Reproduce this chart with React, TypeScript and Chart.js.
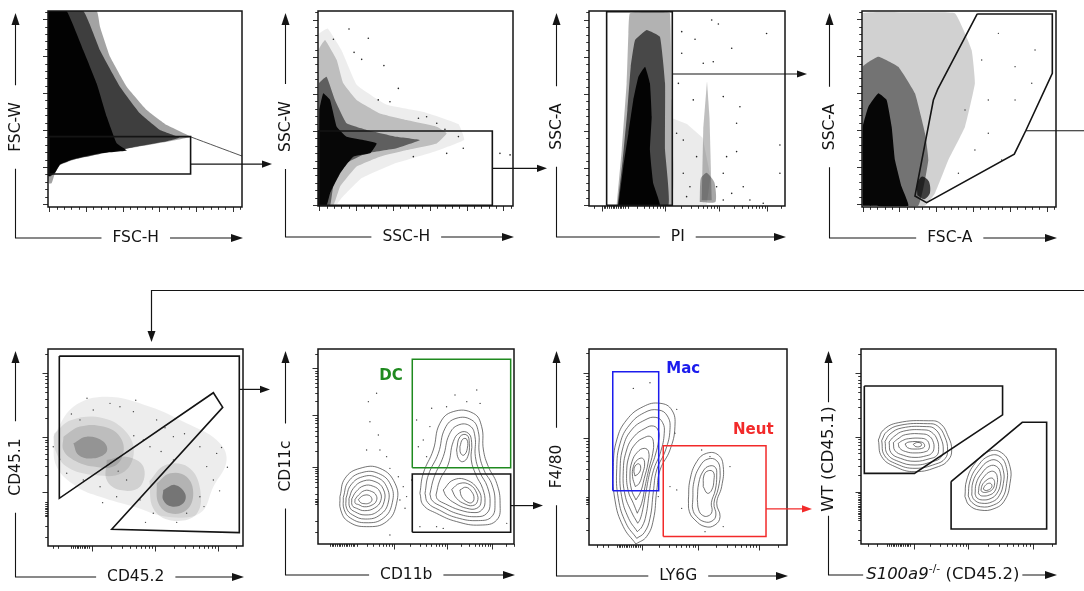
import React, { useEffect, useRef } from "react";
import { Chart, registerables } from "chart.js";
Chart.register(...registerables);

type XY = number[][];

// ---------------- tick definitions ----------------
const LIN_MAJOR = [0, 50, 100, 150, 200, 250];
const LIN_MINOR = [10, 20, 30, 40, 60, 70, 80, 90, 110, 120, 130, 140, 160, 170, 180, 190, 210, 220, 230, 240, 260];
const LOG_MINOR_MULT = [2, 3, 4, 5, 6, 7, 8, 9];

const P1_X_RANGE = [-1.8, 262.7];
const P1_Y_RANGE = [-4, 261];
const P2_X_RANGE = [-1.8, 263];
const P2_Y_RANGE = [-1.3, 262];
const P3_Y_RANGE = [-1.3, 262];
const P4_X_RANGE = [-0.9, 262.7];
const P4_Y_RANGE = [-4, 261];

const P3_X_LOG = { majors: [6.5, 38.8, 66.5, 90.7], widths: [0, 27, 27.7, 24.2], after: 24.2, cluster: [7.5, 19], extras: [2.5] };
const P5_X_LOG = { majors: [22.5, 55, 87], widths: [0, 32.5, 32], after: 32, cluster: [12, 21.5], extras: [2.6, 5.1] };
const P5_Y_LOG = { majors: [27.4, 55.3, 87.8], widths: [0, 27.9, 32.5], after: 32.5, cluster: [15, 23], extras: [4.5, 10] };
const P6_X_LOG = { majors: [39, 66, 89], widths: [27, 27, 23], after: 23, cluster: [6, 19], extras: [] };
const P6_Y_LOG = { majors: [39.5, 66, 90], widths: [20, 26.5, 24], after: 24, cluster: [20.5, 23.5], extras: [6, 12] };
const P7_X_LOG = { majors: [27, 55, 86], widths: [0, 28, 31], after: 31, cluster: [14, 26], extras: [3.9, 7.2, 9.7] };
const P7_Y_LOG = { majors: [54.6, 87.8], widths: [30, 33.2], after: 33.2, cluster: [21, 25], extras: [7.7, 14] };
const P8_X_LOG = { majors: [27, 55, 88], widths: [0, 28, 33], after: 33, cluster: [13.5, 26], extras: [3.8, 8] };
const P8_Y_LOG = { majors: [26.8, 55, 87.5], widths: [0, 28.2, 32.5], after: 32.5, cluster: [12.5, 26], extras: [2, 7.2] };

// ---------------- panel 1 : FSC-H / FSC-W ----------------
const P1_OUTER: XY = [[0, 100], [25.1, 100], [26.8, 92], [32, 76.7], [40.6, 61.4], [50.9, 49.5], [61.2, 41.8], [73.2, 35.9], [61.2, 33.3], [44, 30.3], [26.8, 27], [13, 24], [6.2, 21.4], [3.6, 17.2], [1.9, 12.1], [0.5, 12], [0, 15]];
const P1_MID: XY = [[0, 100], [18.2, 100], [26.8, 80], [37.1, 61.4], [47.4, 47.8], [57.7, 39.3], [67.9, 35.4], [61.2, 33.5], [44, 30.5], [26.8, 27.2], [13, 24.2], [6.2, 21.6], [3.6, 17.4], [1, 15.5], [0, 16]];
const P1_CORE: XY = [[0, 100], [9.6, 100], [18.2, 80], [25.1, 63], [30.3, 46], [35.4, 32.5], [40.6, 28.8], [26.8, 27.4], [13, 24.4], [6.2, 21.8], [3.6, 17.6], [1, 15.8], [0, 16]];
const P1_TAIL: XY = [[73.2, 35.9], [87, 30.8], [100, 26]];
const P1_GATE: XY = [[0.5, 16.8], [73.5, 16.8], [73.5, 35.9], [0.5, 35.9]];
const P1_ARROW = [73.5, 21.9];

// ---------------- panel 2 : SSC-H / SSC-W ----------------
const P2_SPARSE: XY = [[0.3, 0.5], [0.3, 88], [5, 91], [12, 80], [20, 62], [35, 52], [55, 48], [72, 42], [75, 34], [60, 28], [40, 22], [22, 14], [12, 4], [9, 0.2]];
const P2_OUTER: XY = [[0.3, 0.5], [0.3, 80], [3.6, 85.1], [9.6, 74.9], [13, 62.9], [19.8, 54.4], [31.8, 47.5], [45.5, 44.1], [60.9, 40.7], [66, 37.3], [60.9, 32.1], [45.5, 28.7], [31.8, 25.3], [19.8, 20.2], [11.3, 9.9], [7.8, 0.2]];
const P2_MID: XY = [[0.5, 0.5], [0.5, 62.9], [4.4, 66.3], [8.7, 54.4], [14.7, 42.4], [25, 39], [40.3, 35.5], [52.3, 33.8], [40.3, 29.6], [25, 27], [14.7, 21.9], [7.8, 9.9], [6.2, 0.2]];
const P2_CORE: XY = [[0.7, 0.5], [0.7, 49.2], [2.7, 57.8], [6.2, 54.4], [9.6, 40.7], [14.7, 35.5], [23.2, 33.8], [30.1, 32.1], [26.7, 27], [18.1, 25.3], [11.3, 16.8], [6.2, 6.5], [4.4, 0.2]];
const P2_DOTS: XY = [[15.9, 90.8], [25.8, 86], [7.9, 85.5], [18.5, 78.8], [22.4, 75.2], [33.8, 72], [41.2, 60.3], [30.9, 54.4], [36.9, 53.5], [51.5, 45], [55.7, 45.8], [60.9, 42.4], [65.1, 39.3], [72, 35.6], [93.3, 27], [98.5, 26.2], [74.5, 29.6], [66, 27], [48.9, 25.3]];
const P2_GATE: XY = [[0.2, 0.3], [89.4, 0.3], [89.4, 38.5], [0.2, 38.5]];
const P2_ARROW = [89.4, 19.3];

// ---------------- panel 3 : PI / SSC-A ----------------
const P3_OUTER: XY = [[14.1, 0.2], [16.7, 28.7], [19.2, 62.9], [20.1, 88.6], [20.9, 98.8], [36.2, 99.3], [41.3, 98.8], [42.2, 54.4], [42.2, 0.2]];
const P3_MID: XY = [[14.6, 0.2], [17.2, 23.6], [19.6, 49.2], [21.3, 71.4], [23.5, 85.1], [29.4, 90.3], [36.2, 86.8], [38.8, 62.9], [38.8, 28.7], [40.5, 0.2]];
const P3_CORE: XY = [[15, 0.2], [17.5, 20.2], [20.1, 37.3], [22.6, 54.4], [25.2, 66.3], [28.6, 71.4], [31.1, 62.9], [32, 45.8], [31.1, 28.7], [32.8, 11.6], [36.2, 0.2]];
const P3_RIGHT: XY = [[42.5, 0.2], [42.5, 45], [50, 42], [58, 35], [62, 15], [60, 0.2]];
const P3_STREAK: XY = [[57.5, 3], [58.3, 40], [60.2, 64], [61.5, 45], [62.6, 3]];
const P3_BLOB: XY = [[56.5, 2], [57, 14], [60, 17], [64, 12], [64.5, 2]];
const P3_DOTS: XY = [[47.3, 89.4], [54.1, 85.5], [62.6, 95.4], [66, 93.3], [72.8, 80.9], [58.3, 73.2], [63.4, 74], [47.3, 78.3], [53.2, 54.4], [68.5, 56.1], [77, 50.9], [75.3, 27.9], [78.7, 9.9], [88.9, 1.4], [97.4, 16.8], [48.1, 16.8], [51.5, 9.9], [54.9, 25.3], [68.5, 16.8], [70.2, 25.3], [72.8, 6.5], [82.1, 3.1], [44.7, 37.3], [48.1, 33.8], [97.4, 31.3], [49.8, 4.8], [65.1, 9.9], [68.5, 3.1], [45.6, 62.9], [75.3, 42.4], [90.6, 88.5]];
const P3_GATE: XY = [[9, 0.3], [42.5, 0.3], [42.5, 99.7], [9, 99.7]];
const P3_ARROW = [42.5, 67.7];

// ---------------- panel 4 : FSC-A / SSC-A ----------------
const P4_OUTER: XY = [[0.4, 0.7], [0.4, 98.8], [27.3, 99.3], [47.9, 98.8], [56.5, 80.1], [58.2, 63.1], [53.1, 41], [44.5, 24], [37.6, 7], [32.5, 0.7]];
const P4_MID: XY = [[0.4, 0.7], [0.4, 71.6], [8.4, 76.7], [18.7, 71.6], [27.3, 58], [32.5, 37.6], [34.2, 24], [29, 0.7]];
const P4_CORE: XY = [[0.4, 0.7], [0.4, 41], [3.3, 51.2], [8.4, 58], [12.7, 54.6], [15.3, 41], [17, 24], [20.4, 10.4], [23.9, 0.7]];
const P4_BLOB: XY = [[28.5, 6], [28.5, 12], [31, 15.5], [34.5, 13], [35, 7], [32, 4]];
const P4_DOTS: XY = [[89.2, 80.1], [78.9, 71.6], [70.3, 88.6], [65.1, 54.6], [78.9, 54.6], [58.2, 29.1], [49.7, 17.2], [72, 24], [87.5, 63.1], [61.7, 75], [65.1, 37.6], [53.1, 49.5]];
const P4_GATE: XY = [[59.4, 98.5], [98.1, 98.5], [98.1, 68.2], [84.4, 38.9], [78.5, 27], [33.3, 2.2], [27.3, 5.6], [36.8, 54.6], [39, 60]];
const P4_ARROW = [84.4, 38.9];

// ---------------- panel 5 : CD45.2 / CD45.1 ----------------
const P5_ENVELOPE: XY = [[2.7, 55.5], [13, 70.7], [30.1, 75.8], [52.3, 70.7], [71.1, 62.3], [86.5, 53.8], [91.6, 43.7], [84.8, 30.1], [77.9, 16.6], [60.9, 14.9], [43.8, 20], [26.7, 25], [14.7, 30.1], [4.4, 40.3]];
const P5_A_OUT: XY = [[3, 57], [12, 64], [28, 65], [40, 58], [44, 47], [38, 37], [24, 36], [10, 40], [4, 48]];
const P5_A_MID: XY = [[7.9, 55.5], [16.4, 60.6], [28.4, 60.6], [36.9, 55.5], [38.6, 47], [33.5, 40.3], [23.2, 40.3], [13, 43.7], [7.9, 48.7]];
const P5_A_CORE: XY = [[13, 52.1], [19.8, 55.5], [28.4, 53], [30.1, 47.9], [23.2, 44.5], [15.6, 46.2]];
const P5_MIDDLE: XY = [[30.1, 43.7], [40.3, 45.3], [48.9, 40.3], [47.2, 30.1], [36.9, 28.4], [30.1, 33.5]];
const P5_B_OUT: XY = [[52, 33], [60, 41], [72, 40], [78, 29], [76, 16], [63, 13], [54, 19]];
const P5_B_MID: XY = [[55.7, 31.8], [62.6, 36.9], [71.1, 35.2], [74.5, 26.7], [71.1, 18.3], [62.6, 16.6], [56.6, 21.7]];
const P5_B_CORE: XY = [[59.1, 28.4], [65.1, 31], [70.3, 26.7], [69.4, 21.7], [63.4, 20], [59.1, 23.4]];
const P5_DOTS: XY = [[31.8, 72.4], [36.9, 70.7], [43.8, 68.2], [55.7, 64], [64.3, 55.5], [77.9, 50.4], [86.5, 47], [81.4, 40.3], [48.9, 53.8], [52.3, 50.4], [40.3, 33.5], [26.7, 30.1], [18.1, 33.5], [9.6, 36.9], [2.7, 50.4], [23.2, 69], [16.4, 64], [77.9, 25], [84.8, 33.5], [71.1, 16.6], [54, 16.6], [47.2, 23.4], [35.2, 25], [64.3, 43.7], [20, 75], [45, 74], [60, 60], [70, 57], [89, 50], [92, 40], [58, 48], [36, 38], [44, 56], [12, 67], [6, 44], [28, 22], [50, 12], [66, 12], [80, 20], [88, 28]];
const P5_GATE: XY = [[5.8, 96.4], [98.1, 96.4], [98.1, 6.8], [32.7, 8.5], [89.6, 70.4], [84.8, 77.8], [5.8, 24.2]];
const P5_ARROW = [98.1, 79.5];

// ---------------- panel 6 : CD11b / CD11c ----------------
const P6_LEFT_RINGS: XY[] = [
  [[11.2, 24.3], [13.8, 33.7], [21.4, 38.8], [31.6, 38.8], [39.3, 31.1], [40.1, 20.9], [35, 11.5], [24.8, 8.9], [15.5, 11.5], [11.6, 17.4]],
  [[12.9, 23.9], [15.5, 32], [22.3, 36.6], [30.8, 36.2], [37.1, 30.3], [37.9, 21.2], [33.3, 13.2], [24.5, 10.9], [16.7, 13.2], [13.3, 17.8]],
  [[14.3, 23.6], [16.8, 30.3], [22.8, 34.5], [29.9, 34.2], [35, 29.4], [35.9, 21.5], [31.6, 14.9], [24.1, 12.8], [17.7, 14.9], [14.6, 18.3]],
  [[15.8, 23.2], [18, 28.5], [23.1, 32.3], [29.1, 32], [33.3, 28.2], [33.8, 21.9], [30.3, 16.6], [24, 14.9], [18.7, 16.6], [16.2, 18.8]],
  [[17.2, 23.1], [19.4, 26.8], [23.5, 29.9], [28.2, 29.6], [31.6, 26.8], [32, 22.2], [28.9, 18.5], [23.8, 17.1], [19.7, 18.3], [17.5, 19.7]],
  [[18.9, 22.9], [20.7, 25.1], [23.8, 27.4], [27.2, 27], [29.6, 25.1], [29.8, 22.2], [27.6, 20], [23.6, 19.1], [20.7, 20.2], [19, 20.9]],
  [[20.6, 22.7], [22.1, 24.3], [24, 25.1], [25.9, 25], [27.2, 23.9], [27.4, 22.2], [25.9, 20.9], [23.5, 20.7], [21.8, 21.2]],
];
const P6_RIGHT_RINGS: XY[] = [
  [[52, 26], [53.7, 36.2], [58.8, 48.2], [62.2, 61.9], [69, 67.9], [79.3, 67], [83.5, 60.2], [84.4, 48.2], [86.9, 39.7], [91.2, 31.1], [92.9, 20.9], [91.2, 12.3], [82.7, 9.7], [70.7, 11.5], [60.5, 15.7], [53.7, 20]],
  [[54.6, 26], [56.3, 35.4], [61.4, 46.5], [64.8, 59.3], [70.4, 64.4], [78.4, 63.6], [81.8, 57.6], [82.3, 46.5], [84.7, 37.9], [88.8, 30.3], [90.3, 20.9], [88.6, 14], [81.8, 12], [70.7, 13.5], [61.9, 17.4], [56, 21.2]],
  [[57.1, 25.6], [59.2, 34.2], [63.9, 44.8], [67, 56.2], [71.6, 61], [77.6, 60.5], [80.1, 55], [80.3, 44.8], [82.7, 36.6], [86.4, 29.4], [87.8, 20.9], [86.1, 15.7], [81, 14], [71.6, 15.4], [63.4, 19.1], [58.3, 22.2]],
  [[60.2, 25.1], [62.2, 32.8], [66.5, 41], [69, 52.5], [72.4, 57.1], [76.7, 56.8], [78.4, 52], [78.2, 43.1], [80.6, 35.4], [84, 28.5], [85.2, 21.2], [83.5, 17.4], [80.1, 16.1], [72.4, 17.4], [65.1, 20.5], [61, 22.9]],
  [[63.9, 27.7], [69, 32.8], [75.9, 32.8], [81.8, 27.7], [83.2, 21.7], [81, 18.3], [75.9, 18.3], [69.9, 20.9], [65.6, 24.3]],
  [[70.7, 48.2], [72.4, 55], [75.9, 55.9], [77.2, 51.6], [76.4, 44.8], [73.8, 42.2], [71.6, 43.9]],
  [[68.2, 28], [72.4, 31.1], [77.6, 30.3], [81, 26], [81.3, 21.7], [78.9, 19.7], [75, 20.5], [70.7, 23.4]],
  [[72.4, 49.9], [73.8, 53.7], [75.9, 53.7], [76.2, 49.1], [74.5, 45.6], [72.8, 46.5]],
  [[72.4, 27.7], [75.5, 29.1], [78.4, 26.8], [79.6, 23.4], [78.4, 21.2], [75.9, 21.7], [73.3, 24.3]],
];
const P6_DOTS: XY = [[25.7, 73], [26.5, 62.7], [30.8, 55.9], [35, 44.8], [36.7, 38.8], [41, 34.5], [43.5, 29.4], [45.2, 24.3], [50.3, 63.6], [53.7, 53.3], [55.4, 44.8], [58, 69.6], [65.6, 70.4], [69.9, 76.4], [75.9, 73], [81, 79], [52, 8.9], [60.5, 8.9], [96.3, 10.6], [36.7, 4.6], [41.8, 22.6], [31.6, 48.2], [24.8, 48.2], [29.9, 77.3], [82.7, 72.1], [57.1, 60.2], [51.2, 49.9], [47.8, 32.8], [44.4, 18.3], [63.9, 8]];
const P6_DC_GATE: XY = [[48.1, 39.1], [98.3, 39.1], [98.3, 94.7], [48.1, 94.7]];
const P6_GATE: XY = [[48.1, 6], [98.3, 6], [98.3, 35.9], [48.1, 35.9]];
const P6_ARROW = [98.3, 19.7];
const P6_DC_LABEL = [37.2, 86.2];

// ---------------- panel 7 : LY6G / F4/80 ----------------
const P7_MAC_RINGS: XY[] = [
  [[23.7, 0.5], [17.3, 9.4], [13.1, 23], [12.3, 40], [14, 53.6], [19, 63.8], [27.4, 70.6], [35.9, 72.3], [41.8, 68.9], [43.4, 60.4], [40.9, 48.5], [35.9, 38.3], [34.2, 27.6], [32.5, 12.8], [29.1, 4.3]],
  [[24.1, 3.4], [18.7, 11.1], [14.8, 23.8], [14, 39.1], [15.7, 51.9], [20.4, 61.2], [27.9, 67.5], [35, 68.9], [39.6, 65.8], [40.9, 59], [38.7, 48.5], [34.2, 38.3], [32.5, 27.2], [30.8, 13.6], [27.9, 6.3]],
  [[24.4, 6.8], [20, 13.6], [16.5, 24.7], [15.7, 38.3], [17.3, 50.2], [21.5, 58.7], [28.3, 63.8], [33.8, 65.1], [37.2, 62.4], [38, 57], [36.2, 47.6], [32.5, 37.9], [30.5, 27.2], [28.8, 15.3], [26.8, 9.4]],
  [[24.6, 11.1], [21.4, 17], [18.2, 25.5], [17.3, 37.4], [19, 48.5], [22.7, 55.3], [28.3, 59.5], [32.5, 60.7], [35, 58.3], [35.2, 53.6], [33.5, 45.9], [30.8, 37.4], [28.8, 27.2], [27.1, 17.9], [25.8, 13.1]],
  [[24.4, 16.2], [22.4, 21.3], [19.9, 27.2], [19, 36.6], [20.4, 45.9], [23.7, 51.9], [28.1, 54.9], [31.1, 55.3], [32.5, 52.7], [32.2, 46.8], [30.3, 39.1], [28.3, 29.8], [26.6, 21.3]],
  [[23.7, 23], [21.5, 28.1], [20.7, 35.7], [21.7, 42.5], [24.4, 47.3], [27.9, 49.3], [30.1, 47.6], [29.8, 41.7], [27.9, 34], [26.1, 27.2]],
  [[23.4, 29.8], [22, 34.9], [22.4, 40], [24.4, 43.4], [27.1, 44.2], [28.1, 41.3], [27.1, 36.6], [25.4, 31.5]],
  [[23.2, 35.2], [22.7, 38.3], [23.7, 40.8], [25.4, 41.3], [26.1, 39.1], [25.1, 36.6]],
];
const P7_NEUT_RINGS: XY[] = [
  [[50.2, 23], [51, 33.2], [54.4, 42.5], [59.4, 46.8], [65.3, 45.9], [67.8, 40], [67, 29.8], [64.5, 21.3], [66.2, 14.5], [63.6, 10.2], [58.6, 9.4], [53.5, 12.8], [50.7, 17]],
  [[52.4, 23], [53, 32.3], [56.1, 40.3], [60.1, 43.9], [64.5, 43], [66.2, 37.9], [65.3, 28.9], [63.1, 21.3], [64.1, 15.3], [62.1, 12.2], [58.2, 11.9], [54.4, 14.5], [52.4, 18.2]],
  [[54.7, 23.3], [55.4, 31.5], [57.7, 37.8], [60.8, 40.3], [63.8, 39.6], [64.5, 35.7], [63.8, 28.1], [61.8, 21.6], [62.1, 17], [60.1, 14.8], [57.4, 15.1], [55.4, 17.9]],
  [[57.7, 29.8], [58.1, 35.7], [60.3, 37.9], [62.8, 37.2], [63.1, 33.2], [62, 28.1], [59.8, 26.4]],
];
const P7_DOTS: XY = [[22.4, 79.9], [30.8, 82.8], [44.3, 69.2], [43.4, 57], [40.9, 29.8], [44.3, 28.1], [56.9, 48.5], [61.1, 45.1], [71.2, 40], [58.6, 6.8], [67.8, 9.4], [46.8, 18.7], [35, 24.7]];
const P7_MAC_GATE: XY = [[12, 27.7], [35.2, 27.7], [35.2, 88.4], [12, 88.4]];
const P7_NEUT_GATE: XY = [[37.5, 4.3], [89.4, 4.3], [89.4, 50.7], [37.5, 50.7]];
const P7_ARROW = [89.4, 18.4];
const P7_MAC_LABEL = [47.6, 89.8];
const P7_NEUT_LABEL = [83, 58.7];

// ---------------- panel 8 : S100a9-/- (CD45.2) / WT (CD45.1) ----------------
const P8_WT_RINGS: XY[] = [
  [[8.9, 53.3], [11.5, 58.5], [19.1, 62.2], [34.5, 63.2], [40.5, 61.9], [44.8, 55], [46.5, 48.2], [44.8, 43.1], [39.7, 39.7], [27.7, 37.1], [17.4, 39.7], [10.6, 44.8]],
  [[10.6, 53], [13.2, 57.6], [20, 60.9], [34.2, 61.7], [39.3, 60.5], [43.1, 54.7], [44.4, 48.2], [43.1, 43.8], [38.3, 41], [27.7, 38.8], [18.3, 41], [12, 45.5]],
  [[12.3, 52.6], [14.9, 56.4], [20.9, 59.5], [33.7, 60.2], [37.9, 59], [41, 54.2], [42.2, 48.2], [41, 44.4], [37.1, 42.4], [27.7, 40.5], [19.1, 42.4], [13.5, 46.2]],
  [[14.4, 52.3], [16.8, 55], [21.9, 57.9], [32.8, 58.5], [36.2, 57.3], [39, 53.7], [39.8, 48.5], [38.8, 45.3], [35.4, 43.8], [27.7, 42.4], [20.3, 43.9], [15.4, 46.8]],
  [[16.6, 52], [18.8, 53.8], [22.9, 56.1], [32, 56.4], [34.9, 55.4], [36.8, 53], [37.4, 49.1], [36.2, 46.5], [33.7, 45.3], [27.7, 44.4], [21.7, 45.5], [17.4, 47.9]],
  [[19.1, 51.6], [21.2, 53], [24.3, 54], [31.1, 54.2], [33.7, 53.3], [34.9, 51.3], [34.9, 49.1], [33.5, 47.5], [27.7, 46.7], [22.9, 47.4], [19.8, 49.2]],
  [[22.6, 51.3], [24.6, 52.3], [30.8, 52.3], [32.5, 51.1], [32.1, 49.4], [27.7, 48.7], [23.9, 49.4]],
  [[26.8, 51.1], [28.5, 52], [30.8, 51.6], [30.8, 50.3], [28.2, 49.9]],
];
const P8_KO_RINGS: XY[] = [
  [[53.3, 24.3], [54.2, 32.8], [58.5, 41.4], [65.3, 47.4], [72.1, 46.8], [76.4, 39.7], [76.4, 31.1], [73.8, 22.6], [68.7, 18.3], [61, 17.4], [55.4, 20]],
  [[55, 24.6], [55.9, 32.3], [59.7, 39.7], [65.6, 45.1], [71.3, 44.8], [74.7, 38.8], [74.7, 31.1], [72.5, 23.6], [68, 20], [61.4, 19.1], [56.8, 21.4]],
  [[56.8, 25.1], [57.4, 31.8], [60.7, 37.9], [65.8, 42.7], [70.4, 42.4], [73, 37.6], [73, 31.1], [70.9, 24.8], [67.4, 21.7], [61.9, 20.9], [58.1, 22.6]],
  [[58.5, 25.6], [59.1, 31.1], [61.9, 36.2], [66, 40], [69.6, 39.7], [71.5, 36.2], [71.5, 30.8], [69.7, 26], [66.7, 23.4], [62.4, 22.6], [59.5, 23.6]],
  [[60.2, 26.3], [60.9, 30.8], [63.1, 34.5], [66.2, 37.1], [68.7, 36.8], [69.9, 34.2], [69.7, 30.4], [68.4, 26.8], [65.8, 25.1], [62.7, 24.6], [60.9, 25.1]],
  [[61.5, 27.4], [62.2, 30.3], [64.1, 32.5], [66.5, 33.8], [68, 33.2], [68.5, 30.8], [67.4, 28], [65.3, 26.8], [62.7, 26.5]],
  [[62.7, 28.2], [63.6, 29.9], [65.3, 31.1], [66.8, 30.8], [67, 29.1], [65.3, 27.7], [63.6, 27.5]],
];
const P8_WT_GATE: XY = [[1.7, 81], [72.6, 81], [72.6, 66.2], [27.4, 36.2], [1.7, 36.2]];
const P8_KO_GATE: XY = [[46.2, 32], [82.7, 62.4], [95.2, 62.4], [95.2, 7.7], [46.2, 7.7]];

// ---------------- helpers ----------------
const FONT = '"DejaVu Sans", Verdana, sans-serif';
const GREEN = "#1f8a1f";
const BLUE = "#1c1ced";
const RED = "#f22a2a";
const INK = "#141414";
const CONTOUR = "rgba(72,72,72,0.9)";

const pts = (a: XY) => a.map(([x, y]) => ({ x, y }));
const closed = (a: XY) => pts([...a, a[0]]);

function fillDs(a: XY, color: string, order: number, tension = 0.1) {
  return { data: closed(a), showLine: true, fill: "shape", backgroundColor: color, borderColor: "rgba(0,0,0,0)", borderWidth: 0, pointRadius: 0, tension, order };
}
function polyDs(a: XY, color: string, width: number, order: number, close = true, tension = 0) {
  return { data: close ? closed(a) : pts(a), showLine: true, fill: false, borderColor: color, borderWidth: width, pointRadius: 0, tension, order, borderJoinStyle: "miter" };
}
function ringsDs(rings: XY[], order: number) {
  return rings.map((r) => ({ data: closed(r), showLine: true, fill: false, borderColor: CONTOUR, borderWidth: 0.85, pointRadius: 0, tension: 0.45, order }));
}
function dotsDs(a: XY, color: string, r: number, order: number) {
  return { data: pts(a), showLine: false, pointRadius: r, pointBackgroundColor: color, pointBorderColor: color, pointBorderWidth: 0, order };
}

function tickSets(t: any) {
  const major: number[] = [];
  const minor: number[] = [];
  if (t.kind === "lin") {
    const [mn, mx] = t.range;
    const f = (v: number) => ((v - mn) / (mx - mn)) * 100;
    LIN_MAJOR.forEach((v) => major.push(f(v)));
    LIN_MINOR.forEach((v) => { const p = f(v); if (p <= 100) minor.push(p); });
  } else {
    const cEnd = t.cluster ? t.cluster[1] : -1;
    t.majors.forEach((m: number, i: number) => {
      major.push(m);
      const w = t.widths[i];
      if (w > 0) LOG_MINOR_MULT.forEach((k) => { const p = m - w + w * Math.log10(k); if (p > cEnd + 0.8 && p > 0) minor.push(p); });
    });
    const last = t.majors[t.majors.length - 1];
    LOG_MINOR_MULT.forEach((k) => { const p = last + t.after * Math.log10(k); if (p < 100) minor.push(p); });
    if (t.cluster) for (let p = t.cluster[0]; p <= t.cluster[1]; p += 0.9) minor.push(p);
    t.extras.forEach((p: number) => minor.push(p));
  }
  return { major, minor };
}

type Seg = { t: string; italic?: boolean; sup?: boolean };
function segFont(s: Seg, size: number) {
  if (s.sup) return `${(size * 0.66).toFixed(1)}px ${FONT}`;
  return `${s.italic ? "italic " : ""}${size}px ${FONT}`;
}
function measureRich(ctx: CanvasRenderingContext2D, segs: Seg[], size: number) {
  let w = 0;
  for (const s of segs) { ctx.font = segFont(s, size); w += ctx.measureText(s.t).width; }
  return w;
}
function drawRich(ctx: CanvasRenderingContext2D, segs: Seg[], size: number, x: number, y: number) {
  ctx.textBaseline = "middle";
  ctx.textAlign = "left";
  let cx = x;
  for (const s of segs) {
    ctx.font = segFont(s, size);
    ctx.fillText(s.t, cx, s.sup ? y - size * 0.38 : y);
    cx += ctx.measureText(s.t).width;
  }
}
function head(ctx: CanvasRenderingContext2D, x: number, y: number, dir: string, len: number, hw: number) {
  ctx.beginPath();
  if (dir === "right") { ctx.moveTo(x, y); ctx.lineTo(x - len, y - hw); ctx.lineTo(x - len, y + hw); }
  else { ctx.moveTo(x, y); ctx.lineTo(x - hw, y + len); ctx.lineTo(x + hw, y + len); }
  ctx.closePath();
  ctx.fill();
}

const TOP_STYLE = { size: 15.5, gapX: 11, gapY: 17, offX: 6.5, offY: 1.5 };
const BOT_STYLE = { size: 15.5, gapX: 11, gapY: 17, offX: 6, offY: 3 };
const P8_STYLE = { size: 16.5, gapX: 3, gapY: 4, offX: 0, offY: -4 };

function makeDecor(spec: any) {
  return {
    id: "decor_" + spec.id,
    afterDraw(chart: any) {
      const ctx: CanvasRenderingContext2D = chart.ctx;
      const a = chart.chartArea;
      const xs = chart.scales.x;
      const ys = chart.scales.y;
      ctx.save();
      ctx.strokeStyle = "#333";
      ctx.lineWidth = 1;
      const xt = tickSets(spec.xTicks);
      const yt = tickSets(spec.yTicks);
      ctx.beginPath();
      const xmaj = spec.xTicks.kind === "lin" ? 5 : 5.5;
      const ymaj = spec.yTicks.kind === "lin" ? 5 : 5.5;
      xt.major.forEach((v) => { const p = Math.round(xs.getPixelForValue(v)) + 0.5; ctx.moveTo(p, a.bottom); ctx.lineTo(p, a.bottom + xmaj); });
      xt.minor.forEach((v) => { const p = Math.round(xs.getPixelForValue(v)) + 0.5; ctx.moveTo(p, a.bottom); ctx.lineTo(p, a.bottom + 2.8); });
      yt.major.forEach((v) => { const p = Math.round(ys.getPixelForValue(v)) + 0.5; ctx.moveTo(a.left, p); ctx.lineTo(a.left - ymaj, p); });
      yt.minor.forEach((v) => { const p = Math.round(ys.getPixelForValue(v)) + 0.5; ctx.moveTo(a.left, p); ctx.lineTo(a.left - 2.8, p); });
      ctx.stroke();
      ctx.strokeStyle = INK;
      ctx.lineWidth = 1.5;
      ctx.strokeRect(a.left, a.top, a.right - a.left, a.bottom - a.top);
      for (const ar of spec.arrows) {
        const sx = xs.getPixelForValue(ar.from[0]);
        const sy = ys.getPixelForValue(ar.from[1]);
        const tip = a.right + ar.dx;
        ctx.strokeStyle = ar.color;
        ctx.fillStyle = ar.color;
        ctx.lineWidth = 1.2;
        ctx.beginPath();
        ctx.moveTo(sx, sy);
        ctx.lineTo(ar.head ? tip - 9 : tip, sy);
        ctx.stroke();
        if (ar.head) head(ctx, tip, sy, "right", 10, 3.6);
      }
      for (const tx of spec.texts) {
        ctx.fillStyle = tx.color;
        ctx.font = `bold 15px ${FONT}`;
        ctx.textAlign = "center";
        ctx.textBaseline = "middle";
        ctx.fillText(tx.text, xs.getPixelForValue(tx.at[0]), ys.getPixelForValue(tx.at[1]));
      }
      const st = spec.style;
      const vx = a.left - 32.5;
      const hy = a.bottom + 31;
      const topTip = a.top + 2;
      const rightTip = a.right + 1;
      const wx = measureRich(ctx, spec.xLabel, st.size);
      const wy = measureRich(ctx, spec.yLabel, st.size);
      const cx = (vx + rightTip) / 2 + st.offX;
      const cy = (topTip + hy) / 2 + st.offY;
      ctx.strokeStyle = INK;
      ctx.fillStyle = INK;
      ctx.lineWidth = 1.1;
      ctx.beginPath();
      ctx.moveTo(vx, cy + wy / 2 + st.gapY);
      ctx.lineTo(vx, hy);
      ctx.lineTo(cx - wx / 2 - st.gapX, hy);
      ctx.moveTo(cx + wx / 2 + st.gapX, hy);
      ctx.lineTo(rightTip - 10, hy);
      ctx.moveTo(vx, cy - wy / 2 - st.gapY);
      ctx.lineTo(vx, topTip + 10);
      ctx.stroke();
      head(ctx, rightTip, hy, "right", 12, 4);
      head(ctx, vx, topTip, "up", 12, 4);
      drawRich(ctx, spec.xLabel, st.size, cx - wx / 2, hy);
      ctx.save();
      ctx.translate(vx, cy);
      ctx.rotate(-Math.PI / 2);
      drawRich(ctx, spec.yLabel, st.size, -wy / 2, 0);
      ctx.restore();
      ctx.restore();
    },
  };
}

// ---------------- panel specs ----------------
const PANELS: any[] = [
  {
    id: "p1", frame: [48, 11, 242, 207], canvasW: 270,
    xTicks: { kind: "lin", range: P1_X_RANGE }, yTicks: { kind: "lin", range: P1_Y_RANGE },
    xLabel: [{ t: "FSC-H" }], yLabel: [{ t: "FSC-W" }], style: TOP_STYLE,
    arrows: [{ from: P1_ARROW, dx: 30, color: INK, head: true }], texts: [],
    build: () => [
      fillDs(P1_OUTER, "rgba(0,0,0,0.36)", 30), fillDs(P1_MID, "rgba(0,0,0,0.62)", 29), fillDs(P1_CORE, "rgba(0,0,0,0.96)", 28),
      polyDs(P1_TAIL, "rgba(40,40,40,0.8)", 1, 27, false, 0.3),
      polyDs(P1_GATE, INK, 1.6, 1),
    ],
  },
  {
    id: "p2", frame: [318, 11, 513, 206], canvasW: 275,
    xTicks: { kind: "lin", range: P2_X_RANGE }, yTicks: { kind: "lin", range: P2_Y_RANGE },
    xLabel: [{ t: "SSC-H" }], yLabel: [{ t: "SSC-W" }], style: TOP_STYLE,
    arrows: [{ from: P2_ARROW, dx: 34, color: INK, head: true }], texts: [],
    build: () => [
      fillDs(P2_SPARSE, "rgba(0,0,0,0.07)", 31), fillDs(P2_OUTER, "rgba(0,0,0,0.2)", 30), fillDs(P2_MID, "rgba(0,0,0,0.5)", 29), fillDs(P2_CORE, "rgba(0,0,0,0.93)", 28),
      dotsDs(P2_DOTS, "#222", 0.8, 20),
      polyDs(P2_GATE, INK, 1.6, 1),
    ],
  },
  {
    id: "p3", frame: [589, 11, 785, 206], canvasW: 275,
    xTicks: { kind: "log", ...P3_X_LOG }, yTicks: { kind: "lin", range: P3_Y_RANGE },
    xLabel: [{ t: "PI" }], yLabel: [{ t: "SSC-A" }], style: TOP_STYLE,
    arrows: [{ from: P3_ARROW, dx: 22, color: INK, head: true }], texts: [],
    build: () => [
      fillDs(P3_OUTER, "rgba(0,0,0,0.3)", 30), fillDs(P3_MID, "rgba(0,0,0,0.6)", 29), fillDs(P3_CORE, "rgba(0,0,0,0.95)", 28),
      fillDs(P3_RIGHT, "rgba(0,0,0,0.08)", 27, 0), fillDs(P3_STREAK, "rgba(0,0,0,0.25)", 26, 0), fillDs(P3_BLOB, "rgba(0,0,0,0.35)", 25, 0.2),
      dotsDs(P3_DOTS, "#222", 0.8, 20),
      polyDs(P3_GATE, INK, 1.6, 1),
    ],
  },
  {
    id: "p4", frame: [862, 11, 1056, 207], canvasW: 264,
    xTicks: { kind: "lin", range: P4_X_RANGE }, yTicks: { kind: "lin", range: P4_Y_RANGE },
    xLabel: [{ t: "FSC-A" }], yLabel: [{ t: "SSC-A" }], style: TOP_STYLE,
    arrows: [{ from: P4_ARROW, dx: 28, color: INK, head: false }], texts: [],
    build: () => [
      fillDs(P4_OUTER, "rgba(0,0,0,0.18)", 30), fillDs(P4_MID, "rgba(0,0,0,0.45)", 29), fillDs(P4_CORE, "rgba(0,0,0,0.95)", 28),
      fillDs(P4_BLOB, "rgba(0,0,0,0.7)", 27, 0.3),
      dotsDs(P4_DOTS, "#333", 0.7, 20),
      polyDs(P4_GATE, INK, 1.6, 1),
    ],
  },
  {
    id: "p5", frame: [48, 349, 243, 546], canvasW: 270,
    xTicks: { kind: "log", ...P5_X_LOG }, yTicks: { kind: "log", ...P5_Y_LOG },
    xLabel: [{ t: "CD45.2" }], yLabel: [{ t: "CD45.1" }], style: BOT_STYLE,
    arrows: [{ from: P5_ARROW, dx: 27, color: INK, head: true }], texts: [],
    build: () => [
      fillDs(P5_ENVELOPE, "rgba(0,0,0,0.07)", 31, 0.4), fillDs(P5_A_OUT, "rgba(0,0,0,0.09)", 30, 0.4), fillDs(P5_B_OUT, "rgba(0,0,0,0.1)", 30, 0.4),
      fillDs(P5_A_MID, "rgba(0,0,0,0.13)", 29, 0.4), fillDs(P5_MIDDLE, "rgba(0,0,0,0.12)", 29, 0.4), fillDs(P5_B_MID, "rgba(0,0,0,0.16)", 29, 0.4),
      fillDs(P5_A_CORE, "rgba(0,0,0,0.22)", 28, 0.4), fillDs(P5_B_CORE, "rgba(0,0,0,0.35)", 28, 0.4),
      dotsDs(P5_DOTS, "#444", 0.7, 20),
      polyDs(P5_GATE, INK, 1.6, 1),
    ],
  },
  {
    id: "p6", frame: [318, 349, 514, 544], canvasW: 270,
    xTicks: { kind: "log", ...P6_X_LOG }, yTicks: { kind: "log", ...P6_Y_LOG },
    xLabel: [{ t: "CD11b" }], yLabel: [{ t: "CD11c" }], style: BOT_STYLE,
    arrows: [{ from: P6_ARROW, dx: 29, color: INK, head: true }],
    texts: [{ text: "DC", at: P6_DC_LABEL, color: GREEN }],
    build: () => [
      dotsDs(P6_DOTS, "#444", 0.7, 20),
      ...ringsDs(P6_LEFT_RINGS, 10), ...ringsDs(P6_RIGHT_RINGS, 10),
      polyDs(P6_DC_GATE, GREEN, 1.5, 1), polyDs(P6_GATE, INK, 1.6, 1),
    ],
  },
  {
    id: "p7", frame: [589, 349, 787, 545], canvasW: 275,
    xTicks: { kind: "log", ...P7_X_LOG }, yTicks: { kind: "log", ...P7_Y_LOG },
    xLabel: [{ t: "LY6G" }], yLabel: [{ t: "F4/80" }], style: BOT_STYLE,
    arrows: [{ from: P7_ARROW, dx: 25, color: RED, head: true }],
    texts: [{ text: "Mac", at: P7_MAC_LABEL, color: BLUE }, { text: "Neut", at: P7_NEUT_LABEL, color: RED }],
    build: () => [
      dotsDs(P7_DOTS, "#444", 0.7, 20),
      ...ringsDs(P7_MAC_RINGS, 10), ...ringsDs(P7_NEUT_RINGS, 10),
      polyDs(P7_MAC_GATE, BLUE, 1.5, 1), polyDs(P7_NEUT_GATE, RED, 1.5, 1),
    ],
  },
  {
    id: "p8", frame: [861, 349, 1056, 544], canvasW: 265,
    xTicks: { kind: "log", ...P8_X_LOG }, yTicks: { kind: "log", ...P8_Y_LOG },
    xLabel: [{ t: "S100a9", italic: true }, { t: "-/-", sup: true }, { t: " (CD45.2)" }], yLabel: [{ t: "WT (CD45.1)" }], style: P8_STYLE,
    arrows: [], texts: [],
    build: () => [
      ...ringsDs(P8_WT_RINGS, 10), ...ringsDs(P8_KO_RINGS, 10),
      polyDs(P8_WT_GATE, INK, 1.6, 1), polyDs(P8_KO_GATE, INK, 1.6, 1),
    ],
  },
];

function Panel({ spec }: { spec: any }) {
  const ref = useRef<HTMLCanvasElement>(null);
  const [L, T, R, B] = spec.frame;
  const padL = 42;
  const padT = 12;
  const padB = 50;
  const cw = spec.canvasW;
  const ch = B - T + padT + padB;
  useEffect(() => {
    if (!ref.current) return;
    const chart = new Chart(ref.current, {
      type: "line",
      data: { datasets: spec.build() },
      options: {
        responsive: false,
        maintainAspectRatio: false,
        animation: false,
        events: [],
        devicePixelRatio: 1,
        layout: { padding: { left: padL, top: padT, right: cw - padL - (R - L), bottom: padB } },
        scales: {
          x: { type: "linear", min: 0, max: 100, display: false },
          y: { type: "linear", min: 0, max: 100, display: false },
        },
        plugins: { legend: { display: false }, tooltip: { enabled: false } },
      } as any,
      plugins: [makeDecor(spec)],
    } as any);
    return () => chart.destroy();
  }, []);
  return (
    <canvas
      ref={ref}
      width={cw}
      height={ch}
      style={{ position: "absolute", left: L - padL, top: T - padT, width: cw, height: ch }}
    />
  );
}

export default function App() {
  return (
    <div style={{ position: "absolute", left: 0, top: 0, width: 1084, height: 591, background: "#fff", overflow: "hidden" }}>
      {PANELS.map((p) => (
        <Panel key={p.id} spec={p} />
      ))}
      <svg width={1084} height={591} style={{ position: "absolute", left: 0, top: 0, pointerEvents: "none" }}>
        <path d="M1084 290.5 H151.5 V331" stroke={INK} strokeWidth={1.2} fill="none" />
        <polygon points="147.5,331 155.5,331 151.5,342" fill={INK} />
      </svg>
    </div>
  );
}
